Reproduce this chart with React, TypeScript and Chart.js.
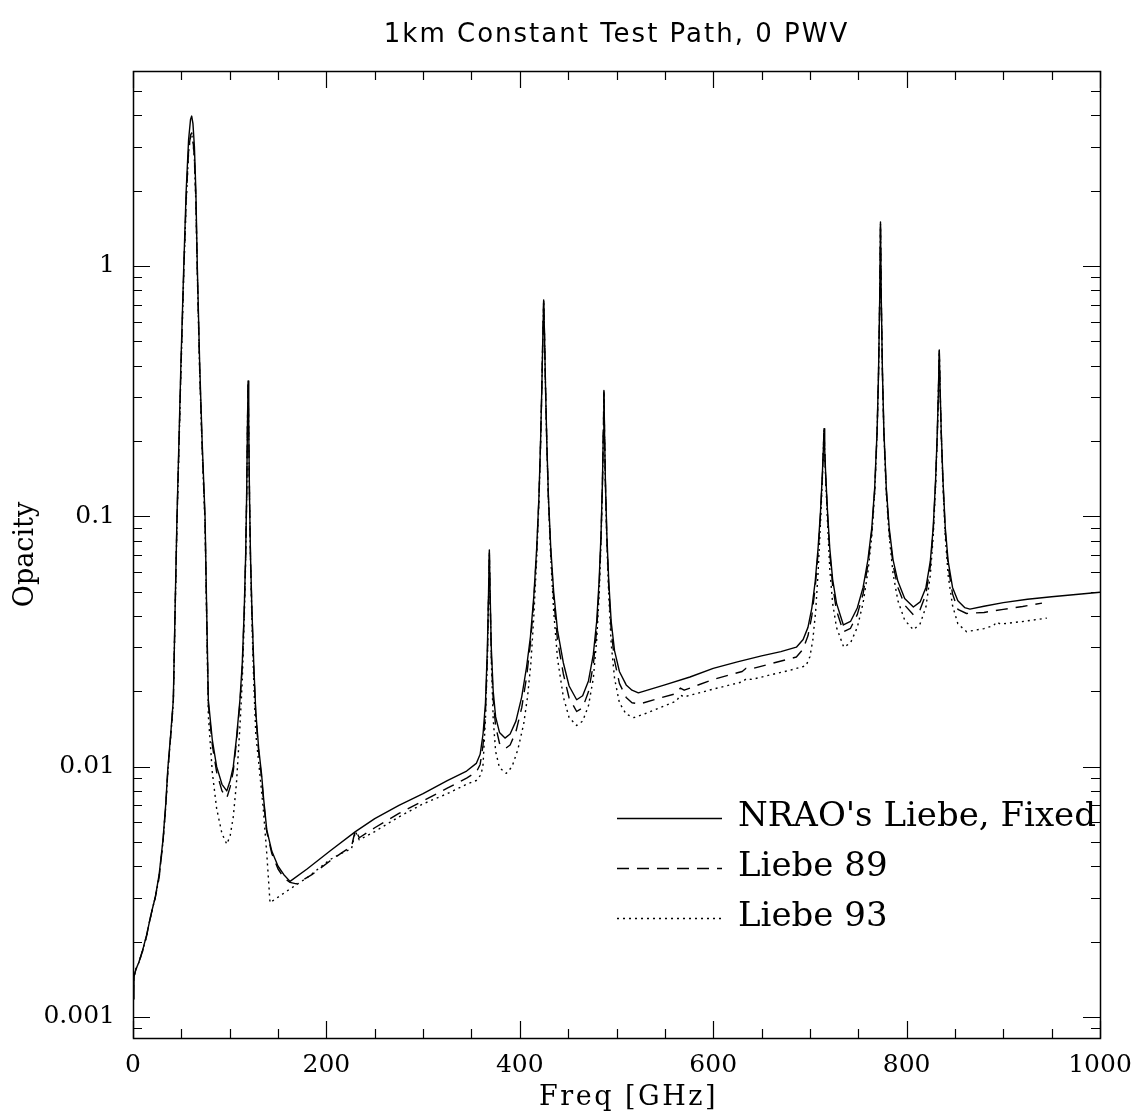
import React, { useEffect, useRef } from 'react';
import { Chart, registerables } from 'chart.js';

Chart.register(...registerables);

const chartTitle = '1km Constant Test Path, 0 PWV';
const xAxisTitle = 'Freq [GHz]';
const yAxisTitle = 'Opacity';
const xTickValues = [0, 200, 400, 600, 800, 1000];
const xTickLabels = ['0', '200', '400', '600', '800', '1000'];
const yTickValues = [0.001, 0.01, 0.1, 1];
const yTickLabels = ['0.001', '0.01', '0.1', '1'];
const seriesNames = ["NRAO's Liebe, Fixed", 'Liebe 89', 'Liebe 93'];

// NRAO's Liebe, Fixed (solid)
const fixedFreq = [
  0, 1, 3, 6, 10, 14, 17, 20, 23, 27,
  31, 34, 36, 39, 41.7, 43.5, 45.5, 47.5, 49.5, 52.5,
  55, 57.5, 59.5, 60.7, 62, 63.5, 65, 66.5, 69, 71.5,
  74.5, 76.2, 77.9, 82, 86.5, 92, 97, 100.5, 103.7,
  107, 110.6, 113, 115, 116.5, 117.5, 118.3, 119, 119.7, 120.5,
  121.5, 123, 125, 127, 130, 133, 135, 138.3, 143.5, 150,
  156, 162.4, 180, 203.7, 230, 250, 275, 300, 325, 345,
  355, 359, 362, 364.5, 366.5, 367.7, 368.5, 369.3, 370.5, 372.5,
  375, 379, 384.7, 390, 396, 402, 407, 411, 414.5, 417.5,
  419.8, 421.5, 422.8, 423.8, 424.7, 425.6, 426.6, 427.9, 429.6, 432,
  435, 439, 445, 451, 458.8, 465, 471, 476, 479.5, 482,
  484, 485.5, 486.4, 487, 487.6, 488.5, 490, 492, 494.5, 498,
  503, 510, 516, 522.6, 550, 576, 600, 625, 650, 670,
  686, 693, 698, 702, 705.5, 708.5, 711, 712.8, 713.9, 714.6,
  715.3, 716.4, 718.2, 720.5, 723.5, 727.5, 734.6, 742, 749, 755,
  760, 764, 767, 769.5, 771, 772.2, 773, 773.8, 775, 776.5,
  779, 782, 786, 791, 798, 807, 814, 820, 824.5, 827.5,
  830, 831.8, 833, 833.8, 834.6, 835.8, 837.6, 840, 843, 847.5,
  853, 860, 865.5, 880, 900, 925, 950, 975, 1000,
];
const fixedOpacity = [
  0.00118, 0.00145, 0.00155, 0.00165, 0.00185, 0.00212, 0.0024, 0.0027, 0.003, 0.0037,
  0.0051, 0.0072, 0.0098, 0.0135, 0.0185, 0.042, 0.1, 0.2, 0.4, 1.0,
  2.0, 3.2, 3.85, 3.97, 3.7, 3.0, 2.0, 1.0, 0.4, 0.2,
  0.1, 0.042, 0.0185, 0.0128, 0.01, 0.0085, 0.008, 0.0088, 0.01,
  0.013, 0.0185, 0.026, 0.042, 0.07, 0.12, 0.22, 0.347, 0.22, 0.12,
  0.07, 0.042, 0.025, 0.0165, 0.0118, 0.0093, 0.0075, 0.0056, 0.0046, 0.004,
  0.0037, 0.00348, 0.0039, 0.0046, 0.0055, 0.0062, 0.007, 0.0078, 0.0088, 0.0096,
  0.0103, 0.0112, 0.0135, 0.018, 0.03, 0.05, 0.0734, 0.05, 0.03, 0.02,
  0.0158, 0.0137, 0.013, 0.0135, 0.0152, 0.019, 0.025, 0.033, 0.048, 0.075,
  0.12, 0.2, 0.33, 0.52, 0.731, 0.52, 0.33, 0.2, 0.12, 0.075,
  0.05, 0.035, 0.026, 0.021, 0.0185, 0.0192, 0.022, 0.028, 0.038, 0.055,
  0.085, 0.14, 0.22, 0.318, 0.22, 0.14, 0.085, 0.055, 0.038, 0.029,
  0.024, 0.0212, 0.0202, 0.0197, 0.0212, 0.0228, 0.0247, 0.0262, 0.0277, 0.0288,
  0.03, 0.0322, 0.036, 0.043, 0.055, 0.075, 0.105, 0.145, 0.185, 0.224,
  0.185, 0.145, 0.105, 0.075, 0.056, 0.045, 0.0368, 0.038, 0.043, 0.052,
  0.067, 0.09, 0.13, 0.22, 0.38, 0.75, 1.5, 0.75, 0.38, 0.22,
  0.13, 0.09, 0.067, 0.055, 0.047, 0.0434, 0.0455, 0.052, 0.066, 0.09,
  0.14, 0.22, 0.33, 0.462, 0.33, 0.22, 0.14, 0.09, 0.066, 0.052,
  0.046, 0.0432, 0.0426, 0.0437, 0.0452, 0.0466, 0.0477, 0.0487, 0.0497,
];

// Liebe 89 (dashed)
const liebe89Freq = [
  0, 1, 3, 6, 10, 14, 17, 20, 23, 27,
  31, 34, 36, 39, 41.7, 43.5, 45.5, 47.5, 49.5, 52.5,
  55, 57.5, 59.5, 60.7, 62, 63.5, 65, 66.5, 69, 71.5,
  74.5, 76.2, 77.9, 82, 86.5, 92, 97, 100.5, 103.7,
  107, 110.6, 113, 115, 116.5, 117.5, 118.3, 119, 119.7, 120.5,
  121.5, 123, 125, 127, 130, 133, 135, 138.3, 143.5, 150,
  156, 162.4, 169, 185, 203.7, 215, 226, 230, 234, 250,
  275, 300, 325, 345, 355, 359, 362, 364.5, 366.5, 367.7,
  368.5, 369.3, 370.5, 372.5, 375, 379, 385, 390, 396, 402,
  407, 411, 414.5, 417.5, 419.8, 421.5, 422.8, 423.8, 424.7, 425.6,
  426.6, 427.9, 429.6, 432, 435, 439, 445, 451, 458.8, 465,
  471, 476, 479.5, 482, 484, 485.5, 486.4, 487, 487.6, 488.5,
  490, 492, 494.5, 498, 503, 510, 516, 524, 545, 562,
  566, 570, 600, 630, 634, 640, 660, 686, 693, 698,
  702, 705.5, 708.5, 711, 712.8, 713.9, 714.6, 715.3, 716.4, 718.2,
  720.5, 723.5, 727.5, 734.6, 742, 749, 755, 760, 764, 767,
  769.5, 771, 772.2, 773, 773.8, 775, 776.5, 779, 782, 786,
  791, 798, 807, 814, 820, 824.5, 827.5, 830, 831.8, 833,
  833.8, 834.6, 835.8, 837.6, 840, 843, 847.5, 853, 862, 880,
  900, 920, 940,
];
const liebe89Opacity = [
  0.00118, 0.00145, 0.00155, 0.00165, 0.00184, 0.0021, 0.0024, 0.0027, 0.003, 0.0036,
  0.005, 0.0071, 0.0096, 0.0133, 0.0182, 0.041, 0.097, 0.19, 0.38, 0.95,
  1.85, 2.9, 3.33, 3.4, 3.2, 2.7, 1.85, 0.95, 0.38, 0.19,
  0.096, 0.04, 0.0178, 0.0122, 0.0095, 0.008, 0.0075, 0.0083, 0.0096,
  0.0126, 0.018, 0.025, 0.041, 0.069, 0.118, 0.218, 0.345, 0.218, 0.118,
  0.069, 0.041, 0.024, 0.016, 0.0114, 0.009, 0.0073, 0.0055, 0.0045, 0.0039,
  0.0036, 0.00345, 0.0034, 0.0037, 0.0042, 0.0045, 0.0048, 0.0056, 0.0052, 0.0057,
  0.0065, 0.0073, 0.0082, 0.009, 0.0095, 0.0102, 0.0122, 0.0165, 0.028, 0.048,
  0.072, 0.048, 0.028, 0.0185, 0.0145, 0.0124, 0.0118, 0.0122, 0.0138, 0.0172,
  0.0228, 0.031, 0.046, 0.073, 0.118, 0.198, 0.328, 0.518, 0.728, 0.518,
  0.328, 0.198, 0.118, 0.073, 0.047, 0.032, 0.0235, 0.0188, 0.0166, 0.0172,
  0.0199, 0.0255, 0.035, 0.052, 0.082, 0.138, 0.218, 0.316, 0.218, 0.138,
  0.082, 0.052, 0.035, 0.0265, 0.0215, 0.0189, 0.018, 0.0178, 0.0188, 0.0196,
  0.0206, 0.0202, 0.0223, 0.024, 0.0247, 0.0246, 0.0258, 0.0274, 0.0295, 0.0333,
  0.04, 0.052, 0.072, 0.102, 0.142, 0.182, 0.222, 0.182, 0.142, 0.102,
  0.072, 0.053, 0.042, 0.0346, 0.0357, 0.0405, 0.049, 0.064, 0.087, 0.127,
  0.217, 0.377, 0.745, 1.48, 0.745, 0.377, 0.217, 0.127, 0.087, 0.064,
  0.052, 0.0442, 0.0404, 0.0424, 0.049, 0.063, 0.087, 0.137, 0.217, 0.327,
  0.458, 0.327, 0.217, 0.137, 0.087, 0.063, 0.049, 0.0425, 0.0409, 0.0413,
  0.0425, 0.0436, 0.045,
];

// Liebe 93 (dotted)
const liebe93Freq = [
  0, 1, 3, 6, 10, 14, 17, 20, 23, 27,
  31, 34, 36, 39, 41.7, 43.5, 45.5, 47.5, 49.5, 52.5,
  55, 57.5, 59.5, 60.7, 62, 63.5, 65, 66.5, 69, 71.5,
  74.5, 76.2, 77.9, 82, 86.5, 92, 97, 100.5, 103.7,
  107, 110.6, 113, 115, 116.5, 117.5, 118.3, 119, 119.7, 120.5,
  121.5, 123, 125, 127, 131, 135, 138.5, 141.7, 160, 180,
  203.7, 215, 226, 230, 234, 250, 275, 300, 325, 345,
  355, 360, 362, 364.5, 366.5, 367.7, 368.5, 369.3, 370.5, 372.5,
  375, 379, 386, 392, 398, 404, 408, 411.5, 414.5, 417.5,
  419.8, 421.5, 422.8, 423.8, 424.7, 425.6, 426.6, 427.9, 429.6, 432,
  435, 439, 445, 451, 458.8, 465, 471, 476, 479.5, 482,
  484, 485.5, 486.4, 487, 487.6, 488.5, 490, 492, 494.5, 498,
  503, 510, 518, 530, 550, 562, 566, 570, 600, 630,
  634, 640, 660, 680, 696, 700, 703, 706, 708.5, 711,
  712.8, 713.9, 714.6, 715.3, 716.4, 718.2, 720.5, 723.5, 727.5, 735,
  742, 749, 755, 760, 764, 767, 769.5, 771, 772.2, 773,
  773.8, 775, 776.5, 779, 782, 786, 791, 798, 807, 814,
  820, 824.5, 827.5, 830, 831.8, 833, 833.8, 834.6, 835.8, 837.6,
  840, 843, 847.5, 853, 862, 880, 890, 893, 897, 920,
  945,
];
const liebe93Opacity = [
  0.00118, 0.00145, 0.00155, 0.00165, 0.00184, 0.0021, 0.0024, 0.0027, 0.003, 0.0036,
  0.005, 0.007, 0.0095, 0.0132, 0.018, 0.04, 0.095, 0.185, 0.37, 0.93,
  1.8, 2.85, 3.28, 3.35, 3.15, 2.65, 1.8, 0.93, 0.37, 0.185,
  0.093, 0.038, 0.016, 0.0095, 0.0068, 0.0054, 0.0049, 0.0053, 0.0063,
  0.0086, 0.0145, 0.022, 0.038, 0.066, 0.115, 0.215, 0.343, 0.215, 0.115,
  0.066, 0.038, 0.021, 0.0135, 0.0095, 0.0066, 0.0044, 0.00286, 0.0032, 0.0036,
  0.00425, 0.0045, 0.0047, 0.0055, 0.0051, 0.0055, 0.0063, 0.0071, 0.0078, 0.0085,
  0.0088, 0.0093, 0.0102, 0.0155, 0.027, 0.047, 0.07, 0.047, 0.027, 0.0155,
  0.0115, 0.0099, 0.0094, 0.01, 0.0117, 0.0148, 0.019, 0.026, 0.04, 0.068,
  0.115, 0.195, 0.325, 0.515, 0.725, 0.515, 0.325, 0.195, 0.115, 0.068,
  0.042, 0.027, 0.019, 0.0157, 0.0146, 0.0152, 0.0175, 0.0225, 0.032, 0.048,
  0.078, 0.135, 0.215, 0.314, 0.215, 0.135, 0.078, 0.048, 0.031, 0.0225,
  0.018, 0.0162, 0.0157, 0.0163, 0.0175, 0.0183, 0.0193, 0.019, 0.0204, 0.0218,
  0.0224, 0.0223, 0.0233, 0.0243, 0.0253, 0.0275, 0.032, 0.042, 0.06, 0.095,
  0.138, 0.18, 0.22, 0.18, 0.138, 0.095, 0.062, 0.045, 0.036, 0.03,
  0.0312, 0.036, 0.045, 0.06, 0.083, 0.123, 0.213, 0.373, 0.74, 1.47,
  0.74, 0.373, 0.213, 0.123, 0.083, 0.059, 0.046, 0.0385, 0.0352, 0.0372,
  0.0435, 0.058, 0.083, 0.133, 0.213, 0.323, 0.455, 0.323, 0.213, 0.133,
  0.083, 0.058, 0.044, 0.0372, 0.0346, 0.0356, 0.0366, 0.0378, 0.0371, 0.038,
  0.0392,
];

const toPoints = (xs: number[], ys: number[]) => xs.map((x, i) => ({ x, y: ys[i] }));

const SERIF = '"DejaVu Serif", serif';

const setSpacing = (ctx: any, v: string) => {
  try {
    ctx.letterSpacing = v;
  } catch (e) {
    /* ignore */
  }
};

const textPlugin = {
  id: 'plotTexts',
  afterDraw(chart: any) {
    const { ctx, chartArea: a } = chart;
    ctx.save();
    ctx.fillStyle = '#000';
    ctx.textAlign = 'center';
    ctx.textBaseline = 'middle';
    ctx.font = '26px "DejaVu Sans", sans-serif';
    setSpacing(ctx, '2px');
    ctx.fillText(chartTitle, (a.left + a.right) / 2, 35);
    ctx.font = `27px ${SERIF}`;
    setSpacing(ctx, '2.5px');
    ctx.fillText(xAxisTitle, (a.left + a.right) / 2 + 12, a.bottom + 60);
    setSpacing(ctx, '0px');
    ctx.restore();
  },
};

const framePlugin = {
  id: 'frameTicks',
  afterDatasetsDraw(chart: any) {
    const { ctx, chartArea: a, scales } = chart;
    const xs = scales.x;
    const ys = scales.y;
    ctx.save();
    ctx.strokeStyle = '#000';
    ctx.lineWidth = 1.2;
    ctx.beginPath();
    for (let v = xs.min; v <= xs.max + 1e-6; v += 50) {
      const px = Math.round(xs.getPixelForValue(v)) + 0.5;
      const len = Math.abs(v % 200) < 1e-6 ? 17 : 9;
      ctx.moveTo(px, a.bottom);
      ctx.lineTo(px, a.bottom - len);
      ctx.moveTo(px, a.top);
      ctx.lineTo(px, a.top + len);
    }
    for (let e = -5; e <= 2; e++) {
      for (let m = 1; m <= 9; m++) {
        const v = m * Math.pow(10, e);
        if (v < ys.min || v > ys.max) continue;
        const py = Math.round(ys.getPixelForValue(v)) + 0.5;
        const len = m === 1 ? 17 : 9;
        ctx.moveTo(a.left, py);
        ctx.lineTo(a.left + len, py);
        ctx.moveTo(a.right, py);
        ctx.lineTo(a.right - len, py);
      }
    }
    ctx.stroke();
    ctx.lineWidth = 1.5;
    ctx.strokeRect(a.left + 0.5, a.top + 0.5, a.right - a.left, a.bottom - a.top);
    ctx.restore();
  },
};

const legendPlugin = {
  id: 'inlineLegend',
  afterDatasetsDraw(chart: any) {
    const { ctx, chartArea: a } = chart;
    const x0 = a.left + 484;
    const x1 = a.left + 589;
    const tx = a.left + 605;
    chart.data.datasets.forEach((ds: any, i: number) => {
      const y = a.top + 747 + i * 50;
      ctx.save();
      ctx.strokeStyle = ds.borderColor;
      ctx.lineWidth = ds.borderWidth;
      ctx.setLineDash(ds.borderDash || []);
      ctx.beginPath();
      ctx.moveTo(x0, y + 0.5);
      ctx.lineTo(x1, y + 0.5);
      ctx.stroke();
      ctx.setLineDash([]);
      ctx.fillStyle = '#000';
      ctx.font = `34px ${SERIF}`;
      ctx.textAlign = 'left';
      ctx.textBaseline = 'alphabetic';
      ctx.fillText(ds.label, tx, y + 8);
      ctx.restore();
    });
  },
};

export default function App() {
  const canvasRef = useRef<HTMLCanvasElement | null>(null);

  useEffect(() => {
    const canvas = canvasRef.current;
    if (!canvas) return;
    const common = {
      borderColor: '#000',
      borderWidth: 1.4,
      pointRadius: 0,
      pointHoverRadius: 0,
      tension: 0,
      fill: false,
      borderJoinStyle: 'round' as const,
    };
    const chart = new Chart(canvas, {
      type: 'line',
      data: {
        datasets: [
          { ...common, label: seriesNames[0], data: toPoints(fixedFreq, fixedOpacity), borderDash: [] },
          { ...common, label: seriesNames[1], data: toPoints(liebe89Freq, liebe89Opacity), borderDash: [12, 8] },
          { ...common, label: seriesNames[2], data: toPoints(liebe93Freq, liebe93Opacity), borderDash: [2, 4] },
        ],
      },
      options: {
        animation: false,
        responsive: false,
        devicePixelRatio: 1,
        layout: { padding: { left: 0, right: 36, top: 71, bottom: 0 } },
        plugins: {
          legend: { display: false },
          tooltip: { enabled: false },
          title: { display: false },
        },
        scales: {
          x: {
            type: 'linear',
            min: 0,
            max: 1000,
            afterBuildTicks: (s: any) => {
              s.ticks = xTickValues.map((v) => ({ value: v }));
            },
            afterFit: (s: any) => {
              s.height = 80;
              s.paddingLeft = 0;
              s.paddingRight = 0;
            },
            ticks: {
              callback: (_v: any, i: number) => xTickLabels[i],
              color: '#000',
              font: { family: SERIF, size: 25 },
              padding: 12,
              maxRotation: 0,
              autoSkip: false,
            },
            grid: { display: false, drawTicks: false },
            border: { display: false },
            title: { display: false },
          },
          y: {
            type: 'logarithmic',
            min: 0.000824,
            max: 6.01,
            afterBuildTicks: (s: any) => {
              s.ticks = yTickValues.map((v) => ({ value: v }));
            },
            afterFit: (s: any) => {
              s.width = 133;
              s.paddingTop = 0;
              s.paddingBottom = 0;
            },
            ticks: {
              callback: (_v: any, i: number) => yTickLabels[i],
              color: '#000',
              font: { family: SERIF, size: 25 },
              padding: 18,
              autoSkip: false,
            },
            grid: { display: false, drawTicks: false },
            border: { display: false },
            title: {
              display: true,
              text: yAxisTitle,
              color: '#000',
              font: { family: SERIF, size: 27 },
              padding: { top: 10, bottom: 0 },
            },
          },
        },
      },
      plugins: [framePlugin, legendPlugin, textPlugin],
    } as any);
    return () => chart.destroy();
  }, []);

  return (
    <div style={{ position: 'absolute', left: 0, top: 0, width: 1136, height: 1118, background: '#fff' }}>
      <canvas ref={canvasRef} width={1136} height={1118} style={{ width: 1136, height: 1118, display: 'block' }} />
    </div>
  );
}
